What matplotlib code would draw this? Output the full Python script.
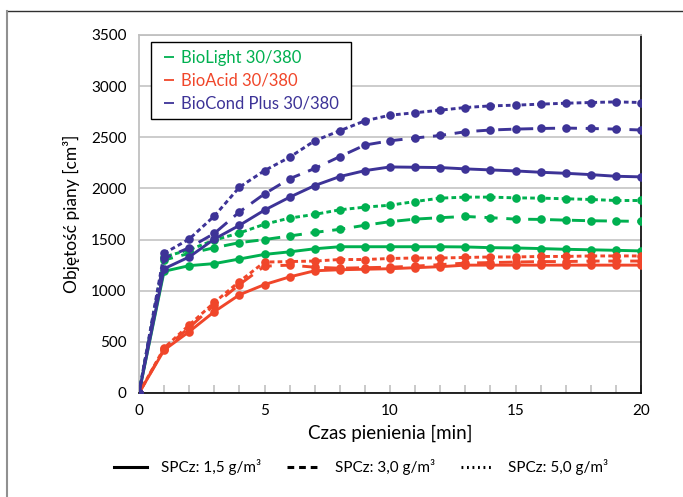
import matplotlib
matplotlib.use("Agg")
import matplotlib.pyplot as plt
from matplotlib.lines import Line2D
import numpy as np

plt.rcParams['font.family'] = ['Lato', 'DejaVu Sans']

time_min = list(range(0, 21))

biolight_15 = [0, 1190, 1245, 1265, 1310, 1355, 1380, 1410, 1430, 1430, 1430, 1430, 1430, 1428, 1421, 1418, 1412, 1405, 1400, 1395, 1389]
biolight_30 = [0, 1300, 1365, 1420, 1470, 1500, 1535, 1570, 1600, 1640, 1675, 1700, 1714, 1726, 1714, 1700, 1697, 1690, 1684, 1681, 1678]
biolight_50 = [0, 1330, 1400, 1495, 1564, 1650, 1710, 1746, 1791, 1817, 1836, 1872, 1905, 1915, 1915, 1908, 1905, 1899, 1892, 1882, 1882]

bioacid_15 = [0, 420, 600, 795, 960, 1060, 1135, 1195, 1205, 1210, 1215, 1225, 1235, 1250, 1250, 1250, 1250, 1250, 1250, 1250, 1250]
bioacid_30 = [0, 430, 640, 860, 1060, 1240, 1250, 1230, 1220, 1225, 1230, 1240, 1255, 1270, 1275, 1280, 1285, 1285, 1290, 1290, 1290]
bioacid_50 = [0, 440, 665, 885, 1090, 1280, 1285, 1290, 1305, 1305, 1315, 1320, 1320, 1325, 1330, 1330, 1335, 1335, 1340, 1340, 1340]

biocond_15 = [0, 1215, 1330, 1505, 1639, 1788, 1914, 2028, 2116, 2174, 2210, 2207, 2204, 2191, 2181, 2171, 2158, 2148, 2135, 2119, 2113]
biocond_30 = [0, 1315, 1420, 1560, 1770, 1947, 2095, 2195, 2311, 2424, 2466, 2493, 2518, 2554, 2571, 2580, 2586, 2590, 2586, 2580, 2571]
biocond_50 = [0, 1365, 1505, 1730, 2012, 2174, 2305, 2466, 2564, 2661, 2716, 2740, 2765, 2791, 2807, 2814, 2824, 2833, 2840, 2846, 2840]

product_names = ["BioLight 30/380", "BioAcid 30/380", "BioCond Plus 30/380"]
dose_labels = ["SPCz: 1,5 g/m³", "SPCz: 3,0 g/m³", "SPCz: 5,0 g/m³"]
y_ticks = [0, 500, 1000, 1500, 2000, 2500, 3000, 3500]
x_ticks = [0, 5, 10, 15, 20]

colors = ['#00b050', '#f0462a', '#3d3397']
series = [
    [biolight_15, biolight_30, biolight_50],
    [bioacid_15, bioacid_30, bioacid_50],
    [biocond_15, biocond_30, biocond_50],
]
styles = ['-', (0, (4.5, 3)), (0, (1.6, 1.1))]

W, H = 683, 497
fig = plt.figure(figsize=(W / 100, H / 100), dpi=100)
ax = fig.add_axes([139 / W, 1 - 393 / H, 502 / W, 358 / H])

# figure border
fig.add_artist(Line2D([7 / W, 1.0], [1 - 11 / H, 1 - 11 / H], transform=fig.transFigure, color='#303030', lw=1.0))
fig.add_artist(Line2D([7 / W, 7 / W], [0.0, 1 - 11 / H], transform=fig.transFigure, color='#909090', lw=1.5))

for c, group in zip(colors, series):
    for ls, ys in zip(styles, group):
        ax.plot(time_min, ys, color=c, linestyle=ls, lw=2.1, marker='o', ms=6.2,
                markeredgewidth=0, zorder=3)

ax.set_xlim(0, 20)
ax.set_ylim(0, 3500)
ax.set_yticks(y_ticks)
ax.set_xticks(x_ticks)
ax.set_xticks(time_min, minor=True)
ax.yaxis.grid(True, color='#c8c8c8', lw=1.3)
ax.set_axisbelow(True)
ax.tick_params(axis='y', length=0, pad=9, labelsize=11)
ax.tick_params(axis='x', which='major', direction='in', length=6, color='#c0c0c0', width=1.2, pad=8, labelsize=11)
ax.tick_params(axis='x', which='minor', direction='in', length=6, color='#c0c0c0', width=1.2)
ax.spines['left'].set_color('#c0c0c0')
ax.spines['left'].set_linewidth(1.3)
ax.spines['top'].set_color('#c0c0c0')
ax.spines['top'].set_linewidth(1.3)
ax.spines['right'].set_color('black')
ax.spines['right'].set_linewidth(1.2)
ax.spines['bottom'].set_color('black')
ax.spines['bottom'].set_linewidth(1.2)

ax.set_xlabel("Czas pienienia [min]", fontsize=13.5, labelpad=5)
ax.set_ylabel("Objętość piany [cm³]", fontsize=12.5, labelpad=8)

# product legend
prod_handles = [Line2D([0], [0], color=c, lw=0, marker='_', ms=7, mew=1.3) for c in colors]
leg_w = 200 / 502
leg_h = 77 / 358
leg = ax.legend(prod_handles, product_names, loc='upper left',
                bbox_to_anchor=(0.0245, 0.9796 - leg_h, leg_w, leg_h), mode='expand',
                borderaxespad=0, fontsize=12, labelcolor=colors, handlelength=1.2,
                handletextpad=0.12, fancybox=False, framealpha=1, edgecolor='black',
                borderpad=0.45, labelspacing=0.42)
leg.get_frame().set_linewidth(1.0)

# dose legend
dose_handles = [Line2D([0], [0], color='black', lw=2.2, linestyle=ls) for ls in ['-', (0, (2.2, 1.6)), (0, (0.6, 1.2))]]
fig.legend(dose_handles, dose_labels, loc='center', bbox_to_anchor=(361 / W, 1 - 467 / H), ncol=3,
           frameon=False, fontsize=11, handlelength=2.2, handletextpad=0.9, columnspacing=1.7)

fig.savefig("out.png", dpi=100)
